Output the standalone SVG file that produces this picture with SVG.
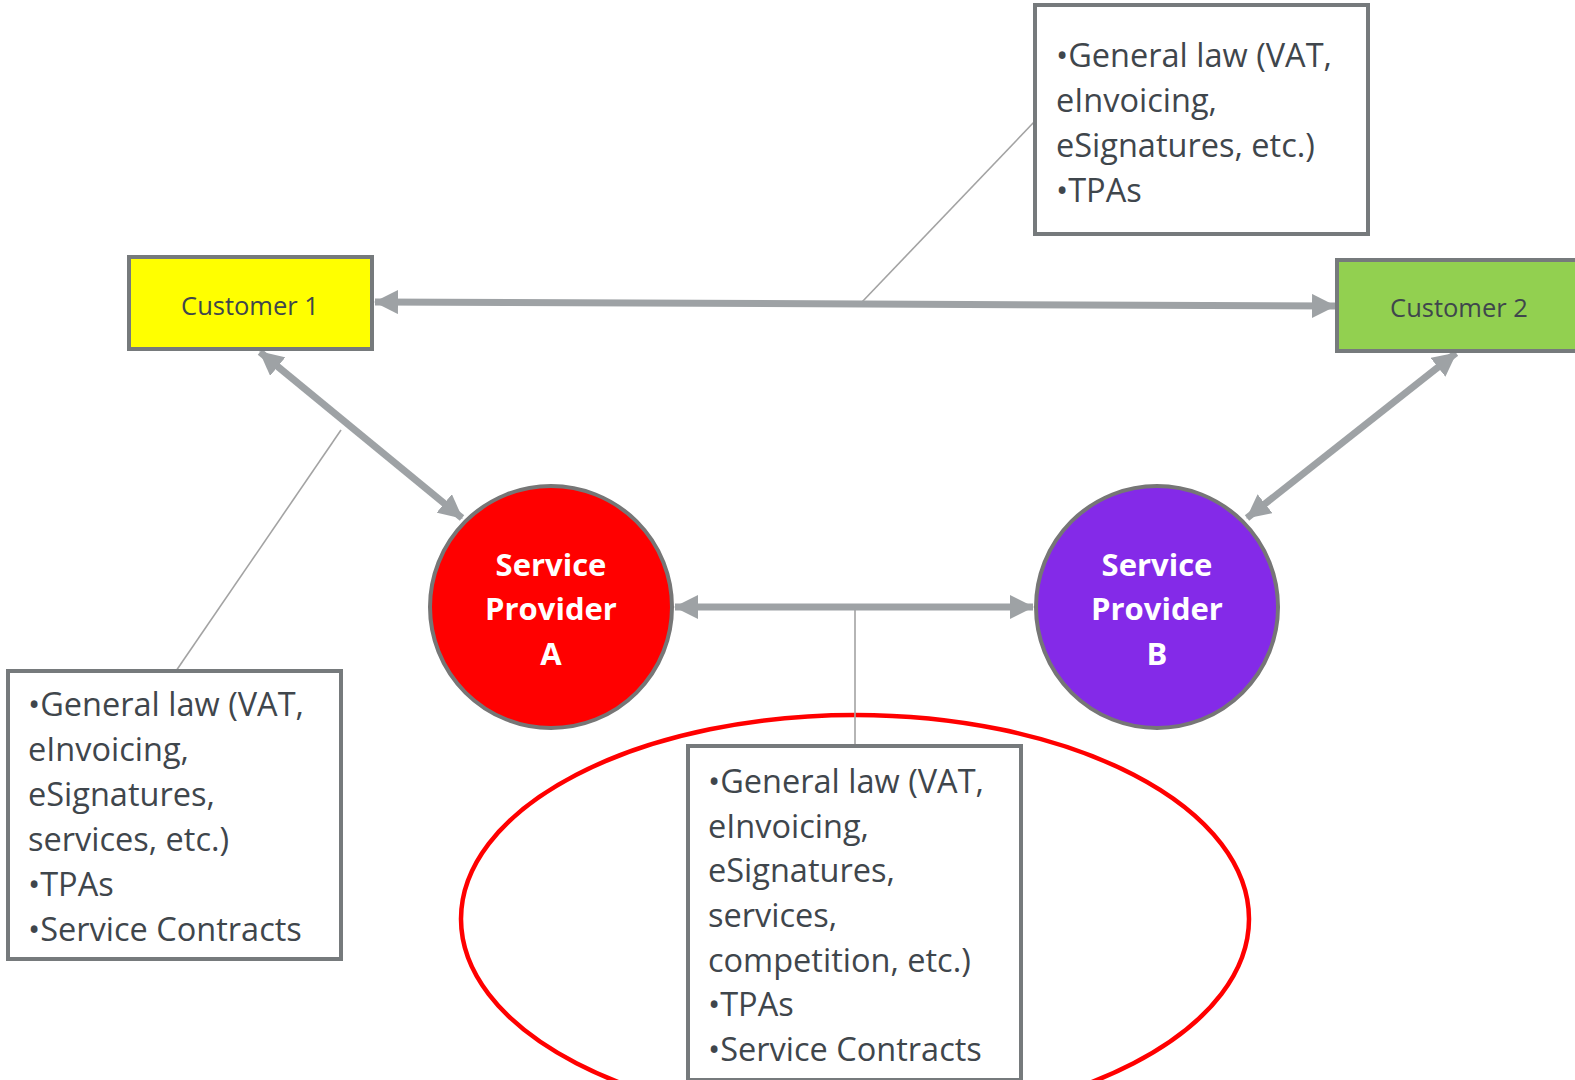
<svg xmlns="http://www.w3.org/2000/svg" width="1575" height="1080" viewBox="0 0 1575 1080">
<style>
.box{fill:#FFFFFF;stroke:#767A7C;stroke-width:4}
.note{font-family:"Open Sans","Liberation Sans",sans-serif;font-size:32.5px;fill:#3F464C}
.cust{font-family:"Open Sans","Liberation Sans",sans-serif;font-size:25.5px;fill:#3F464C;text-anchor:middle}
.sp{font-family:"Open Sans","Liberation Sans",sans-serif;font-size:31px;font-weight:bold;fill:#FFFFFF;text-anchor:middle}
.arrow{stroke:#9EA2A5;stroke-width:7;fill:none;marker-start:url(#ah);marker-end:url(#ah)}
.thin{stroke:#A3A3A3;stroke-width:1.6;fill:none}
</style>
<defs>
<marker id="ah" viewBox="0 0 24 24" refX="23" refY="12" markerWidth="24" markerHeight="24" markerUnits="userSpaceOnUse" orient="auto-start-reverse">
<path d="M0,0 L24,12 L0,24 Z" fill="#9EA2A5"/>
</marker>
</defs>
<rect width="1575" height="1080" fill="#FFFFFF"/>
<g id="highlight">
<ellipse cx="855" cy="919" rx="394" ry="204" fill="none" stroke="#FF0000" stroke-width="4.5"/>
</g>
<g id="connectors">
<line class="thin" x1="862" y1="302" x2="1035" y2="121"/>
<line class="thin" x1="341" y1="430" x2="176" y2="671"/>
<line class="thin" x1="855" y1="608" x2="855" y2="746"/>
<line class="arrow" x1="375" y1="302" x2="1335" y2="306"/>
<line class="arrow" x1="260" y1="352" x2="462" y2="518"/>
<line class="arrow" x1="1456" y1="353" x2="1247" y2="518"/>
<line class="arrow" x1="675" y1="607" x2="1033" y2="607"/>
</g>
<g id="customer1">
<rect x="129" y="257" width="243" height="92" fill="#FFFF00" stroke="#767A7C" stroke-width="4"/>
<text class="cust" x="250" y="315">Customer 1</text>
</g>
<g id="customer2">
<rect x="1337" y="260" width="250" height="91" fill="#92D050" stroke="#767A7C" stroke-width="4"/>
<text class="cust" x="1459" y="317">Customer 2</text>
</g>
<g id="spA">
<circle cx="551" cy="607" r="121" fill="#FF0000" stroke="#767676" stroke-width="4"/>
<text class="sp" x="551" y="576">Service</text>
<text class="sp" x="551" y="620">Provider</text>
<text class="sp" x="551" y="665">A</text>
</g>
<g id="spB">
<circle cx="1157" cy="607" r="121" fill="#842AE8" stroke="#767676" stroke-width="4"/>
<text class="sp" x="1157" y="576">Service</text>
<text class="sp" x="1157" y="620">Provider</text>
<text class="sp" x="1157" y="665">B</text>
</g>
<g id="noteTop">
<rect class="box" x="1035" y="5" width="333" height="229"/>
<text class="note" x="1056" y="67">•General law (VAT,</text>
<text class="note" x="1056" y="112">eInvoicing,</text>
<text class="note" x="1056" y="157">eSignatures, etc.)</text>
<text class="note" x="1056" y="202">•TPAs</text>
</g>
<g id="noteLeft">
<rect class="box" x="8" y="671" width="333" height="288"/>
<text class="note" x="28" y="716">•General law (VAT,</text>
<text class="note" x="28" y="761">eInvoicing,</text>
<text class="note" x="28" y="806">eSignatures,</text>
<text class="note" x="28" y="851">services, etc.)</text>
<text class="note" x="28" y="896">•TPAs</text>
<text class="note" x="28" y="941">•Service Contracts</text>
</g>
<g id="noteCenter">
<rect class="box" x="688" y="746" width="333" height="334"/>
<text class="note" x="708" y="793">•General law (VAT,</text>
<text class="note" x="708" y="838">eInvoicing,</text>
<text class="note" x="708" y="882">eSignatures,</text>
<text class="note" x="708" y="927">services,</text>
<text class="note" x="708" y="972">competition, etc.)</text>
<text class="note" x="708" y="1016">•TPAs</text>
<text class="note" x="708" y="1061">•Service Contracts</text>
</g>
</svg>
